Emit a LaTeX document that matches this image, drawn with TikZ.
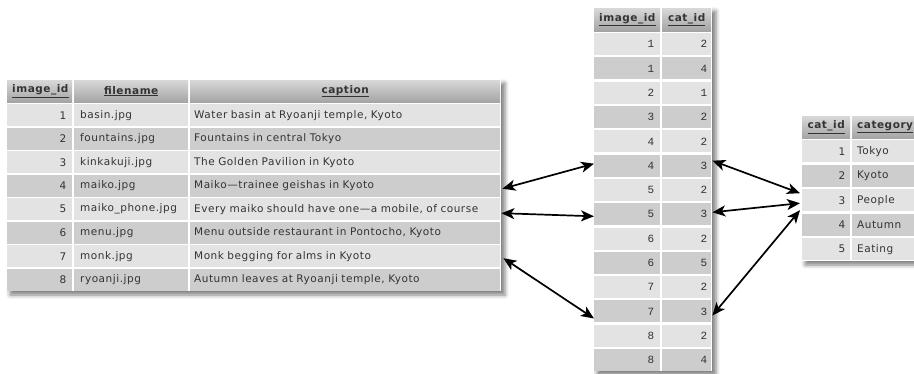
\documentclass[tikz,border=0pt]{standalone}
\usepackage{fontspec}
\setmainfont[LetterSpace=5,WordSpace=2.6]{DejaVu Sans}
\newfontfamily\monof{Liberation Mono}
\usetikzlibrary{arrows.meta,shadows.blur}

\definecolor{rowA}{HTML}{E3E3E3}
\definecolor{rowB}{HTML}{CDCDCD}
\definecolor{txt}{HTML}{333333}
\definecolor{hdtop}{HTML}{D8D8D8}
\definecolor{hdbot}{HTML}{A4A4A4}

\tikzset{
  tbl/.style={fill=white, draw=none, blur shadow={shadow xshift=4pt, shadow yshift=-4pt, shadow blur radius=4pt, shadow opacity=50}},
  cell/.style={anchor=north west, inner xsep=5pt, inner ysep=0pt, minimum height=22pt, text=txt, font=\fontsize{10.5}{12}\selectfont},
  hd/.style={cell, top color=hdtop, bottom color=hdbot, font=\fontsize{10.5}{12}\selectfont\bfseries, align=center},
  num/.style={cell, align=right},
  mnum/.style={cell, align=right, font=\fontsize{11}{12}\monof},
  txtc/.style={cell, align=left},
  link/.style={{Stealth[length=13pt,width=11pt,inset=3.5pt]}-{Stealth[length=13pt,width=11pt,inset=3.5pt]}, line width=1.7pt, black},
}

\newcommand\lrow[4]{%
  \pgfmathsetmacro\yy{104+(#1-1)*23.5}%
  \ifodd#1 \def\rc{rowA}\else\def\rc{rowB}\fi
  \node[num, fill=\rc, text width=53pt, inner xsep=6pt] (L#1a) at (7,\yy) {#2};
  \node[txtc, fill=\rc, text width=102pt, inner xsep=6pt] (L#1b) at (74,\yy) {#3};
  \node[txtc, fill=\rc, inner xsep=4pt, text width=302pt] (L#1c) at (190,\yy) {#4};
}
\newcommand\mrow[3]{%
  \pgfmathsetmacro\yy{33+(#1-1)*24.3}%
  \ifodd#1 \def\rc{rowA}\else\def\rc{rowB}\fi
  \node[mnum, fill=\rc, text width=54pt, inner xsep=6pt] (M#1a) at (594,\yy) {#2};
  \node[mnum, fill=\rc, text width=41pt, inner xsep=4pt] (M#1b) at (662,\yy) {#3};
}
\newcommand\rrow[3]{%
  \pgfmathsetmacro\yy{140+(#1-1)*24.5}%
  \ifodd#1 \def\rc{rowA}\else\def\rc{rowB}\fi
  \node[num, fill=\rc, text width=38pt] (R#1a) at (802,\yy) {#2};
  \node[txtc, fill=\rc, text width=52pt] (R#1b) at (852,\yy) {#3};
}

\begin{document}
\begin{tikzpicture}[x=1pt,y=-1pt]
\useasboundingbox (0,0) rectangle (914,374);

% ---------- left table ----------
\path[tbl] (6,79) rectangle (501,291);
\node[hd, text width=55pt] (LHa) at (7,80) {\underline{image\_id}};
\node[hd, text width=104pt] (LHb) at (74,80) {\underline{filename}};
\node[hd, text width=300pt] (LHc) at (190,80) {\underline{caption}};
\lrow{1}{1}{basin.jpg}{Water basin at Ryoanji temple, Kyoto}
\lrow{2}{2}{fountains.jpg}{Fountains in central Tokyo}
\lrow{3}{3}{kinkakuji.jpg}{The Golden Pavilion in Kyoto}
\lrow{4}{4}{maiko.jpg}{Maiko—trainee geishas in Kyoto}
\lrow{5}{5}{maiko\_phone.jpg}{Every maiko should have one—a mobile, of course}
\lrow{6}{6}{menu.jpg}{Menu outside restaurant in Pontocho, Kyoto}
\lrow{7}{7}{monk.jpg}{Monk begging for alms in Kyoto}
\lrow{8}{8}{ryoanji.jpg}{Autumn leaves at Ryoanji temple, Kyoto}

% ---------- middle table ----------
\path[tbl] (593,7) rectangle (712,371);
\node[hd, text width=56pt, minimum height=23pt] (MHa) at (594,8) {\underline{image\_id}};
\node[hd, text width=39pt, minimum height=23pt] (MHb) at (662,8) {\underline{cat\_id}};
\mrow{1}{1}{2}
\mrow{2}{1}{4}
\mrow{3}{2}{1}
\mrow{4}{3}{2}
\mrow{5}{4}{2}
\mrow{6}{4}{3}
\mrow{7}{5}{2}
\mrow{8}{5}{3}
\mrow{9}{6}{2}
\mrow{10}{6}{5}
\mrow{11}{7}{2}
\mrow{12}{7}{3}
\mrow{13}{8}{2}
\mrow{14}{8}{4}

% ---------- right table ----------
\path[tbl] (801,115) rectangle (914,261);
\node[hd, text width=38pt] (RHa) at (802,116) {\underline{cat\_id}};
\node[hd, text width=52pt] (RHb) at (852,116) {\underline{category}};
\rrow{1}{1}{Tokyo}
\rrow{2}{2}{Kyoto}
\rrow{3}{3}{People}
\rrow{4}{4}{Autumn}
\rrow{5}{5}{Eating}

% ---------- links ----------
\draw[link] ([xshift=2pt,yshift=-3pt]L4c.east) -- ([yshift=2pt]M6a.west);
\draw[link] ([xshift=1pt,yshift=-4pt]L5c.east) -- ([yshift=-2pt]M8a.west);
\draw[link] ([xshift=3pt,yshift=-2pt]L7c.east) -- ([yshift=-7pt]M12a.west);
\draw[link] ([xshift=1pt,yshift=5pt]M6b.east) -- ([xshift=-2pt,yshift=7pt]R3a.west);
\draw[link] ([xshift=1pt,yshift=2pt]M8b.east) -- ([xshift=-2pt,yshift=-3pt]R3a.west);
\draw[link] ([xshift=1pt,yshift=-4pt]M12b.east) -- ([xshift=-2pt,yshift=-10pt]R3a.west);
\end{tikzpicture}
\end{document}
